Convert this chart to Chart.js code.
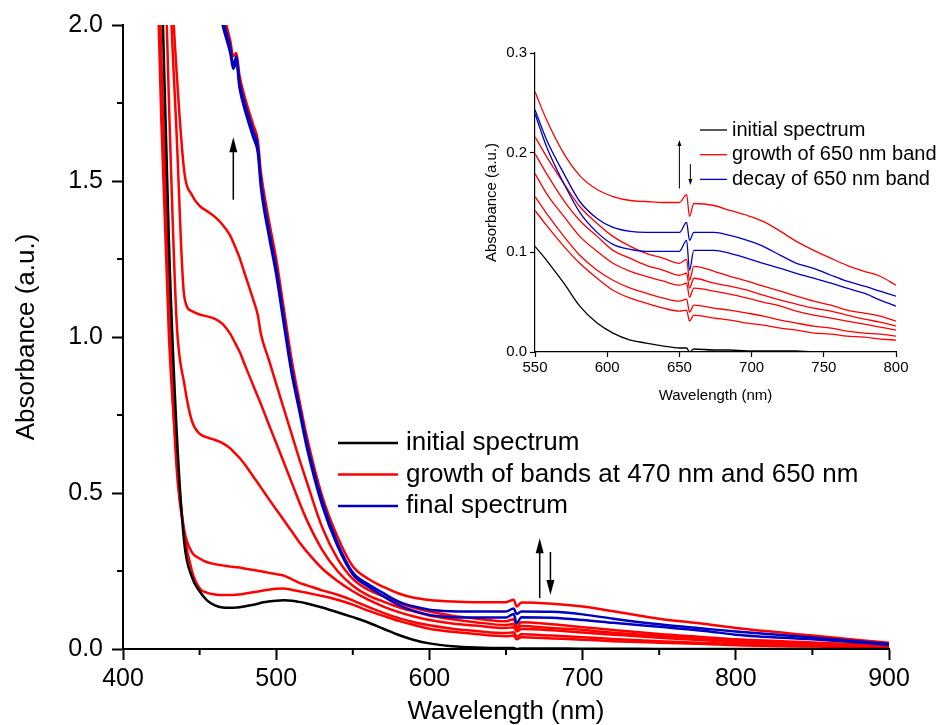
<!DOCTYPE html>
<html>
<head>
<meta charset="utf-8">
<script src="https://cdn.jsdelivr.net/npm/chart.js@4.4.1/dist/chart.umd.min.js"></script>
<style>
  body { margin: 0; background: #fff; }
  #wrap { position: relative; width: 941px; height: 725px; overflow: hidden; }
  #main { position: absolute; left: 0; top: 0; }
  #inset { position: absolute; left: 470px; top: 20px; }
</style>
</head>
<body>
<div id="wrap">
  <canvas id="main" width="941" height="725"></canvas>
  <canvas id="inset" width="471" height="400"></canvas>
</div>
<script>
// main spectra, wavelength in nm, absorbance in a.u. (values above 2.0 are off the plot)
const waveMain = [420, 425, 430, 435, 440, 445, 450, 455, 460, 465, 470, 472, 474, 476, 480, 485, 488, 490, 495, 500, 505, 510, 515, 520, 530, 540, 550, 560, 570, 580, 590, 600, 615, 630, 650, 655, 657, 660, 680, 700, 720, 750, 780, 800, 850, 900];

const mainInitial = [3.0, 2.2, 1.3, 0.7, 0.34, 0.23, 0.185, 0.155, 0.14, 0.133, 0.132, 0.132, 0.133, 0.134, 0.137, 0.142, 0.145, 0.148, 0.152, 0.155, 0.156, 0.155, 0.151, 0.146, 0.133, 0.118, 0.102, 0.085, 0.065, 0.045, 0.029, 0.018, 0.009, 0.005, 0.003, 0.003, 0.0, 0.002, 0.002, 0.001, 0.001, 0.0, 0.0, 0.0, 0.0, 0.0];
const mainGrowth1 = [2.6, 1.7, 1.0, 0.62, 0.37, 0.25, 0.195, 0.18, 0.175, 0.173, 0.173, 0.173, 0.174, 0.175, 0.178, 0.182, 0.184, 0.186, 0.19, 0.193, 0.194, 0.19, 0.185, 0.18, 0.17, 0.158, 0.142, 0.123, 0.106, 0.09, 0.077, 0.065, 0.055, 0.048, 0.041, 0.043, 0.031, 0.038, 0.034, 0.03, 0.025, 0.02, 0.016, 0.012, 0.008, 0.004];
const mainGrowth2 = [2.8, 1.9, 1.1, 0.58, 0.38, 0.31, 0.29, 0.278, 0.272, 0.268, 0.264, 0.263, 0.262, 0.261, 0.257, 0.253, 0.251, 0.249, 0.244, 0.24, 0.235, 0.224, 0.212, 0.204, 0.188, 0.174, 0.156, 0.135, 0.116, 0.099, 0.086, 0.076, 0.065, 0.058, 0.051, 0.054, 0.04, 0.047, 0.043, 0.038, 0.032, 0.025, 0.019, 0.016, 0.011, 0.006];
const mainGrowth3 = [3.0, 2.6, 1.75, 1.05, 0.85, 0.73, 0.69, 0.678, 0.67, 0.66, 0.643, 0.633, 0.623, 0.613, 0.588, 0.553, 0.532, 0.518, 0.482, 0.447, 0.413, 0.378, 0.343, 0.312, 0.258, 0.218, 0.185, 0.158, 0.136, 0.118, 0.104, 0.093, 0.082, 0.075, 0.067, 0.07, 0.056, 0.064, 0.06, 0.053, 0.046, 0.036, 0.028, 0.022, 0.015, 0.008];
const mainGrowth4 = [3.0, 3.0, 2.2, 1.65, 1.13, 1.083, 1.072, 1.066, 1.058, 1.042, 1.01, 0.992, 0.973, 0.954, 0.905, 0.845, 0.809, 0.785, 0.722, 0.66, 0.598, 0.535, 0.472, 0.413, 0.318, 0.25, 0.203, 0.172, 0.152, 0.134, 0.12, 0.107, 0.095, 0.086, 0.077, 0.08, 0.064, 0.074, 0.067, 0.061, 0.052, 0.042, 0.033, 0.026, 0.018, 0.01];
const mainGrowth5 = [3.0, 3.0, 2.3, 1.85, 1.53, 1.455, 1.42, 1.403, 1.385, 1.36, 1.325, 1.303, 1.28, 1.255, 1.195, 1.12, 1.07, 1.01, 0.93, 0.85, 0.77, 0.69, 0.61, 0.535, 0.39, 0.29, 0.225, 0.19, 0.169, 0.148, 0.132, 0.12, 0.107, 0.098, 0.089, 0.095, 0.07, 0.086, 0.079, 0.07, 0.061, 0.048, 0.038, 0.031, 0.021, 0.011];
const mainGrowth6 = [3.0, 3.0, 3.0, 3.0, 3.0, 2.9, 2.7, 2.45, 2.2, 2.05, 1.95, 1.9, 1.91, 1.84, 1.76, 1.68, 1.63, 1.53, 1.38, 1.25, 1.09, 0.93, 0.8, 0.68, 0.49, 0.36, 0.265, 0.225, 0.199, 0.178, 0.164, 0.157, 0.152, 0.15, 0.15, 0.158, 0.136, 0.149, 0.145, 0.136, 0.121, 0.097, 0.08, 0.067, 0.043, 0.02];
const mainFinal1 = [3.0, 3.0, 3.0, 3.0, 3.0, 2.8, 2.6, 2.4, 2.15, 2.02, 1.93, 1.87, 1.9, 1.82, 1.74, 1.66, 1.61, 1.5, 1.35, 1.22, 1.06, 0.9, 0.78, 0.66, 0.475, 0.34, 0.245, 0.208, 0.179, 0.152, 0.136, 0.126, 0.121, 0.12, 0.12, 0.13, 0.112, 0.12, 0.119, 0.111, 0.097, 0.079, 0.065, 0.056, 0.037, 0.016];
const mainFinal2 = [3.0, 3.0, 3.0, 3.0, 3.0, 2.78, 2.58, 2.38, 2.13, 2.0, 1.91, 1.86, 1.88, 1.8, 1.72, 1.64, 1.59, 1.48, 1.33, 1.2, 1.04, 0.885, 0.765, 0.645, 0.46, 0.33, 0.239, 0.2, 0.169, 0.141, 0.122, 0.109, 0.102, 0.101, 0.101, 0.112, 0.082, 0.102, 0.1, 0.093, 0.084, 0.071, 0.058, 0.046, 0.031, 0.014];

// inset, 550-800 nm
const waveInset = [550, 558, 570, 581, 593, 604, 616, 627, 639, 650, 655, 657, 660, 674, 685, 697, 708, 720, 731, 743, 755, 766, 778, 789, 800];

const insetInitial = [0.106, 0.092, 0.069, 0.046, 0.029, 0.019, 0.012, 0.009, 0.006, 0.004, 0.004, 0.0, 0.003, 0.002, 0.002, 0.001, 0.001, 0.001, 0.001, 0.0, 0.0, 0.0, 0.0, 0.0, 0.0];
const insetGrowth1 = [0.142, 0.127, 0.106, 0.089, 0.074, 0.062, 0.054, 0.049, 0.044, 0.041, 0.042, 0.031, 0.037, 0.034, 0.032, 0.029, 0.027, 0.024, 0.022, 0.019, 0.018, 0.016, 0.015, 0.013, 0.012];
const insetGrowth2 = [0.156, 0.139, 0.116, 0.097, 0.082, 0.072, 0.064, 0.059, 0.054, 0.051, 0.053, 0.04, 0.047, 0.044, 0.042, 0.039, 0.036, 0.032, 0.029, 0.026, 0.024, 0.021, 0.019, 0.018, 0.016];
const insetGrowth3 = [0.179, 0.159, 0.136, 0.116, 0.101, 0.089, 0.081, 0.076, 0.071, 0.067, 0.069, 0.055, 0.064, 0.061, 0.058, 0.054, 0.05, 0.046, 0.041, 0.037, 0.034, 0.031, 0.028, 0.025, 0.022];
const insetGrowth4 = [0.199, 0.179, 0.152, 0.132, 0.116, 0.102, 0.094, 0.087, 0.082, 0.077, 0.079, 0.064, 0.074, 0.069, 0.066, 0.062, 0.057, 0.052, 0.048, 0.044, 0.041, 0.037, 0.033, 0.03, 0.026];
const insetGrowth5 = [0.216, 0.196, 0.169, 0.146, 0.129, 0.116, 0.106, 0.099, 0.094, 0.089, 0.093, 0.072, 0.086, 0.081, 0.076, 0.071, 0.066, 0.061, 0.056, 0.051, 0.047, 0.042, 0.039, 0.036, 0.031];
const insetGrowth6 = [0.261, 0.233, 0.199, 0.177, 0.163, 0.156, 0.152, 0.151, 0.15, 0.15, 0.158, 0.136, 0.149, 0.147, 0.142, 0.137, 0.131, 0.121, 0.111, 0.102, 0.094, 0.087, 0.081, 0.076, 0.067];
const insetDecay1 = [0.243, 0.213, 0.179, 0.151, 0.134, 0.125, 0.121, 0.12, 0.12, 0.12, 0.13, 0.112, 0.12, 0.12, 0.117, 0.112, 0.106, 0.097, 0.089, 0.084, 0.077, 0.071, 0.066, 0.061, 0.056];
const insetDecay2 = [0.239, 0.206, 0.169, 0.14, 0.12, 0.108, 0.103, 0.101, 0.101, 0.101, 0.112, 0.082, 0.102, 0.102, 0.099, 0.094, 0.089, 0.084, 0.079, 0.074, 0.069, 0.064, 0.059, 0.052, 0.046];

// axis ticks
const mainMinorX = [450, 550, 650, 750, 850];
const mainMinorY = [0.25, 0.75, 1.25, 1.75];

// arrows: wavelength, start and end absorbance
const mainArrowX = [472, 672, 679];
const mainArrowFrom = [1.44, 0.163, 0.311];
const mainArrowTo = [1.64, 0.355, 0.173];
const insetArrowX = [650, 657.6];
const insetArrowFrom = [0.164, 0.1885];
const insetArrowTo = [0.2126, 0.1675];

const mainLegend = ['initial spectrum', 'growth of bands at 470 nm and 650 nm', 'final spectrum'];
const insetLegend = ['initial spectrum', 'growth of 650 nm band', 'decay of 650 nm band'];

const FONT = '"Liberation Sans", Arial, sans-serif';
const RED = '#ff0000';
const BLUE = '#0000c0';
const BLACK = '#000000';

function toPoints(xs, ys) {
  return xs.map((x, i) => ({ x: x, y: ys[i] }));
}

function lineSet(label, xs, ys, color, width, order) {
  return {
    label: label,
    data: toPoints(xs, ys),
    borderColor: color,
    borderWidth: width,
    pointRadius: 0,
    fill: false,
    cubicInterpolationMode: 'monotone',
    order: order
  };
}

function drawArrow(ctx, x, y0, y1, head, half) {
  const dir = y1 < y0 ? 1 : -1;
  ctx.beginPath();
  ctx.moveTo(x, y0);
  ctx.lineTo(x, y1 + dir * head * 0.6);
  ctx.stroke();
  ctx.beginPath();
  ctx.moveTo(x, y1);
  ctx.lineTo(x - half, y1 + dir * head);
  ctx.lineTo(x + half, y1 + dir * head);
  ctx.closePath();
  ctx.fill();
}

// minor ticks, arrows and the legend block
const decor = {
  id: 'decor',
  afterDraw(chart, args, opts) {
    const { ctx, chartArea } = chart;
    const xs = chart.scales.x;
    const ys = chart.scales.y;
    ctx.save();
    ctx.strokeStyle = BLACK;
    ctx.fillStyle = BLACK;
    ctx.lineWidth = opts.tickWidth;
    opts.minorX.forEach(v => {
      const px = xs.getPixelForValue(v);
      ctx.beginPath();
      ctx.moveTo(px, chartArea.bottom);
      ctx.lineTo(px, chartArea.bottom + opts.minorLen);
      ctx.stroke();
    });
    opts.minorY.forEach(v => {
      const py = ys.getPixelForValue(v);
      ctx.beginPath();
      ctx.moveTo(chartArea.left, py);
      ctx.lineTo(chartArea.left - opts.minorLen, py);
      ctx.stroke();
    });

    ctx.lineWidth = opts.arrowWidth;
    opts.arrowX.forEach((ax, i) => {
      drawArrow(ctx, xs.getPixelForValue(ax), ys.getPixelForValue(opts.arrowFrom[i]),
        ys.getPixelForValue(opts.arrowTo[i]), opts.head, opts.headHalf);
    });

    const lg = opts.legend;
    ctx.font = lg.size + 'px ' + FONT;
    ctx.textBaseline = 'middle';
    ctx.textAlign = 'left';
    lg.labels.forEach((t, i) => {
      const y = lg.y + i * lg.rowH;
      ctx.strokeStyle = lg.colors[i];
      ctx.lineWidth = lg.lineWidth;
      ctx.beginPath();
      ctx.moveTo(lg.x, y);
      ctx.lineTo(lg.x + lg.lineLen, y);
      ctx.stroke();
      ctx.fillStyle = BLACK;
      ctx.fillText(t, lg.x + lg.lineLen + lg.gap, y);
    });
    ctx.restore();
  }
};

function axisOpts(min, max, step, title, tickSize, titleSize, tickLen, pad, titlePad, digits) {
  return {
    type: 'linear',
    min: min,
    max: max,
    border: { display: true, color: BLACK, width: 2 },
    grid: { display: true, drawOnChartArea: false, drawTicks: true, tickLength: tickLen, tickWidth: 2, tickColor: BLACK, color: BLACK },
    ticks: {
      stepSize: step,
      color: BLACK,
      padding: pad,
      maxRotation: 0,
      font: { family: FONT, size: tickSize },
      callback: v => digits ? v.toFixed(digits) : String(v)
    },
    title: {
      display: true,
      text: title,
      color: BLACK,
      padding: titlePad,
      font: { family: FONT, size: titleSize, lineHeight: 1 }
    }
  };
}

function createMainChart() {
  const ctx = document.getElementById('main').getContext('2d');
  const x = axisOpts(400, 900, 100, 'Wavelength (nm)', 25, 26, 11, 4, { top: 0, bottom: 0 }, 0);
  x.afterFit = s => { s.height = 76; };
  const y = axisOpts(0, 2, 0.5, 'Absorbance (a.u.)', 25, 26, 11, 9, { top: 14, bottom: 0 }, 1);
  y.afterFit = s => { s.width = 123; };

  const datasets = [
    lineSet('final 1', waveMain, mainFinal1, BLUE, 2.5, 0),
    lineSet('final 2', waveMain, mainFinal2, BLUE, 2.5, 0),
    lineSet('initial', waveMain, mainInitial, BLACK, 2.5, 1),
    lineSet('growth 1', waveMain, mainGrowth1, RED, 2.5, 2),
    lineSet('growth 2', waveMain, mainGrowth2, RED, 2.5, 2),
    lineSet('growth 3', waveMain, mainGrowth3, RED, 2.5, 2),
    lineSet('growth 4', waveMain, mainGrowth4, RED, 2.5, 2),
    lineSet('growth 5', waveMain, mainGrowth5, RED, 2.5, 2),
    lineSet('growth 6', waveMain, mainGrowth6, RED, 2.5, 2)
  ];

  new Chart(ctx, {
    type: 'line',
    data: { datasets: datasets },
    options: {
      responsive: false,
      animation: false,
      devicePixelRatio: 1,
      layout: { padding: { left: 0, top: 25, right: 52, bottom: 0 } },
      scales: { x: x, y: y },
      plugins: {
        legend: { display: false },
        tooltip: { enabled: false },
        decor: {
          tickWidth: 2, minorLen: 6, minorX: mainMinorX, minorY: mainMinorY,
          arrowWidth: 1.5, head: 15, headHalf: 4,
          arrowX: mainArrowX, arrowFrom: mainArrowFrom, arrowTo: mainArrowTo,
          legend: { labels: mainLegend, colors: [BLACK, RED, BLUE], x: 338, y: 443, rowH: 31.5, lineLen: 60, gap: 8, size: 26, lineWidth: 2.5 }
        }
      }
    },
    plugins: [decor]
  });
}

function createInsetChart() {
  const ctx = document.getElementById('inset').getContext('2d');
  const x = axisOpts(550, 800, 50, 'Wavelength (nm)', 15, 15, 5, 2, { top: 0, bottom: 17 }, 0);
  x.afterFit = s => { s.height = 68; };
  x.border.width = 1.2;
  x.grid.tickWidth = 1.2;
  const y = axisOpts(0, 0.3, 0.1, 'Absorbance (a.u.)', 15, 15, 5, 3, { top: 14, bottom: 0 }, 1);
  y.afterFit = s => { s.width = 65; };
  y.border.width = 1.2;
  y.grid.tickWidth = 1.2;

  const datasets = [
    lineSet('decay 1', waveInset, insetDecay1, BLUE, 1.3, 0),
    lineSet('decay 2', waveInset, insetDecay2, BLUE, 1.3, 0),
    lineSet('initial', waveInset, insetInitial, BLACK, 1.3, 1),
    lineSet('growth 1', waveInset, insetGrowth1, RED, 1.3, 2),
    lineSet('growth 2', waveInset, insetGrowth2, RED, 1.3, 2),
    lineSet('growth 3', waveInset, insetGrowth3, RED, 1.3, 2),
    lineSet('growth 4', waveInset, insetGrowth4, RED, 1.3, 2),
    lineSet('growth 5', waveInset, insetGrowth5, RED, 1.3, 2),
    lineSet('growth 6', waveInset, insetGrowth6, RED, 1.3, 2)
  ];

  new Chart(ctx, {
    type: 'line',
    data: { datasets: datasets },
    options: {
      responsive: false,
      animation: false,
      devicePixelRatio: 1,
      layout: { padding: { left: 0, top: 33, right: 45, bottom: 0 } },
      scales: { x: x, y: y },
      plugins: {
        legend: { display: false },
        tooltip: { enabled: false },
        decor: {
          tickWidth: 1.2, minorLen: 0, minorX: [], minorY: [],
          arrowWidth: 1, head: 6, headHalf: 2,
          arrowX: insetArrowX, arrowFrom: insetArrowFrom, arrowTo: insetArrowTo,
          legend: { labels: insetLegend, colors: [BLACK, RED, BLUE], x: 230, y: 110, rowH: 24.7, lineLen: 27, gap: 5, size: 20, lineWidth: 1.3 }
        }
      }
    },
    plugins: [decor]
  });
}

createMainChart();
createInsetChart();
</script>
</body>
</html>
